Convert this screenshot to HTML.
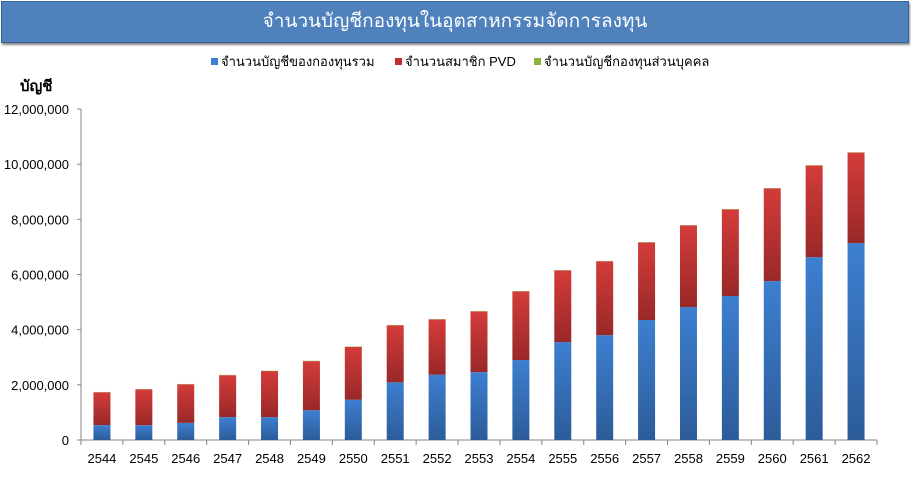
<!DOCTYPE html>
<html><head><meta charset="utf-8">
<style>
body{margin:0;width:911px;height:502px;background:#fff;font-family:"Liberation Sans","Noto Sans CJK SC",sans-serif;overflow:hidden;position:relative}
#title{position:absolute;left:1px;top:1px;width:906px;height:40px;background:#4f81bd;border:1px solid #3a6394;box-shadow:1px 2px 2px #888;color:#fff;font-size:19px;text-align:center;line-height:40px}
</style></head><body>
<div id="title">จำนวนบัญชีกองทุนในอุตสาหกรรมจัดการลงทุน</div>
<svg id="chart" width="911" height="502" style="position:absolute;left:0;top:0">
<defs>
<linearGradient id="gb" x1="0" y1="0" x2="0" y2="1"><stop offset="0" stop-color="#3d7fd0"/><stop offset="1" stop-color="#2c5c99"/></linearGradient>
<linearGradient id="gr" x1="0" y1="0" x2="0" y2="1"><stop offset="0" stop-color="#d33c3a"/><stop offset="1" stop-color="#992828"/></linearGradient>
</defs>
</svg>
<script>
const categories=["2544","2545","2546","2547","2548","2549","2550","2551","2552","2553","2554","2555","2556","2557","2558","2559","2560","2561","2562"];
const fundAccounts=[540000,540000,620000,830000,830000,1080000,1460000,2090000,2370000,2460000,2900000,3550000,3800000,4350000,4820000,5220000,5760000,6630000,7140000];
const pvdMembers=[1190000,1300000,1400000,1520000,1670000,1780000,1920000,2070000,2000000,2200000,2490000,2600000,2680000,2810000,2960000,3140000,3360000,3320000,3280000];
const privateFund=[12000,12000,12000,12000,12000,12000,12000,12000,12000,12000,12000,12000,12000,12000,12000,12000,12000,12000,12000];
const yTicks=[0,2000000,4000000,6000000,8000000,10000000,12000000];
const legendLabels=["จำนวนบัญชีของกองทุนรวม","จำนวนสมาชิก PVD","จำนวนบัญชีกองทุนส่วนบุคคล"];

const svg=document.getElementById('chart');
const NS='http://www.w3.org/2000/svg';
const x0=81,x1=877,y0=440,y1=109,yMax=12000000;
const step=(x1-x0)/categories.length;
const yS=v=>y0-(v/yMax)*(y0-y1);
const xC=i=>x0+step*(i+0.5);
function mk(t,a,txt){const e=document.createElementNS(NS,t);for(const k in a)e.setAttribute(k,a[k]);if(txt!==undefined)e.textContent=txt;svg.appendChild(e);return e;}
const F='"Liberation Sans","Noto Sans CJK SC",sans-serif';

let ax=mk('line',{x1:x0,y1:y1,x2:x0,y2:y0,stroke:'#868686'});


yTicks.forEach(t=>{
  const tk=mk('line',{x1:x0-4,x2:x0,y1:yS(t),y2:yS(t),stroke:'#868686'});
  
  
  const l=mk('text',{x:x0-12,y:yS(t)+5,'text-anchor':'end','font-size':13,'font-family':F,fill:'#000'},t.toLocaleString('en-US'));
  
  
});
const yt=mk('text',{x:20,y:91,'font-size':15,'font-weight':'bold','font-family':F},'บัญชี');



const xa=mk('line',{x1:x0,y1:y0,x2:x1,y2:y0,stroke:'#868686'});


for(let i=0;i<=categories.length;i++){
  const tk=mk('line',{x1:x0+step*i,x2:x0+step*i,y1:y0,y2:y0+5,stroke:'#868686'});
  
  
}
const bw=17;
categories.forEach((c,i)=>{
  const l=mk('text',{x:xC(i),y:463,'text-anchor':'middle','font-size':13,'font-family':F},c);
  
  
  const b=fundAccounts[i],r=pvdMembers[i],g=privateFund[i];
  const rb=mk('rect',{x:xC(i)-bw/2,y:yS(b),width:bw,height:y0-yS(b),fill:'url(#gb)'});
  
  
  const rr=mk('rect',{x:xC(i)-bw/2,y:yS(b+r),width:bw,height:yS(b)-yS(b+r),fill:'url(#gr)'});
  
  
  const rg=mk('rect',{x:xC(i)-bw/2,y:yS(b+r+g),width:bw,height:yS(b+r)-yS(b+r+g),fill:'#9bbb59'});
  
  
});

const colors=['#3d7fd0','#c0302e','#8db33f'];
const lx=[211,395,534];
legendLabels.forEach((t,i)=>{
  const s=mk('rect',{x:lx[i],y:58,width:7,height:7,fill:colors[i]});
  
  
  const l=mk('text',{x:lx[i]+10,y:66,'font-size':13,'font-family':F},t);
  
  
});
</script>
</body></html>
